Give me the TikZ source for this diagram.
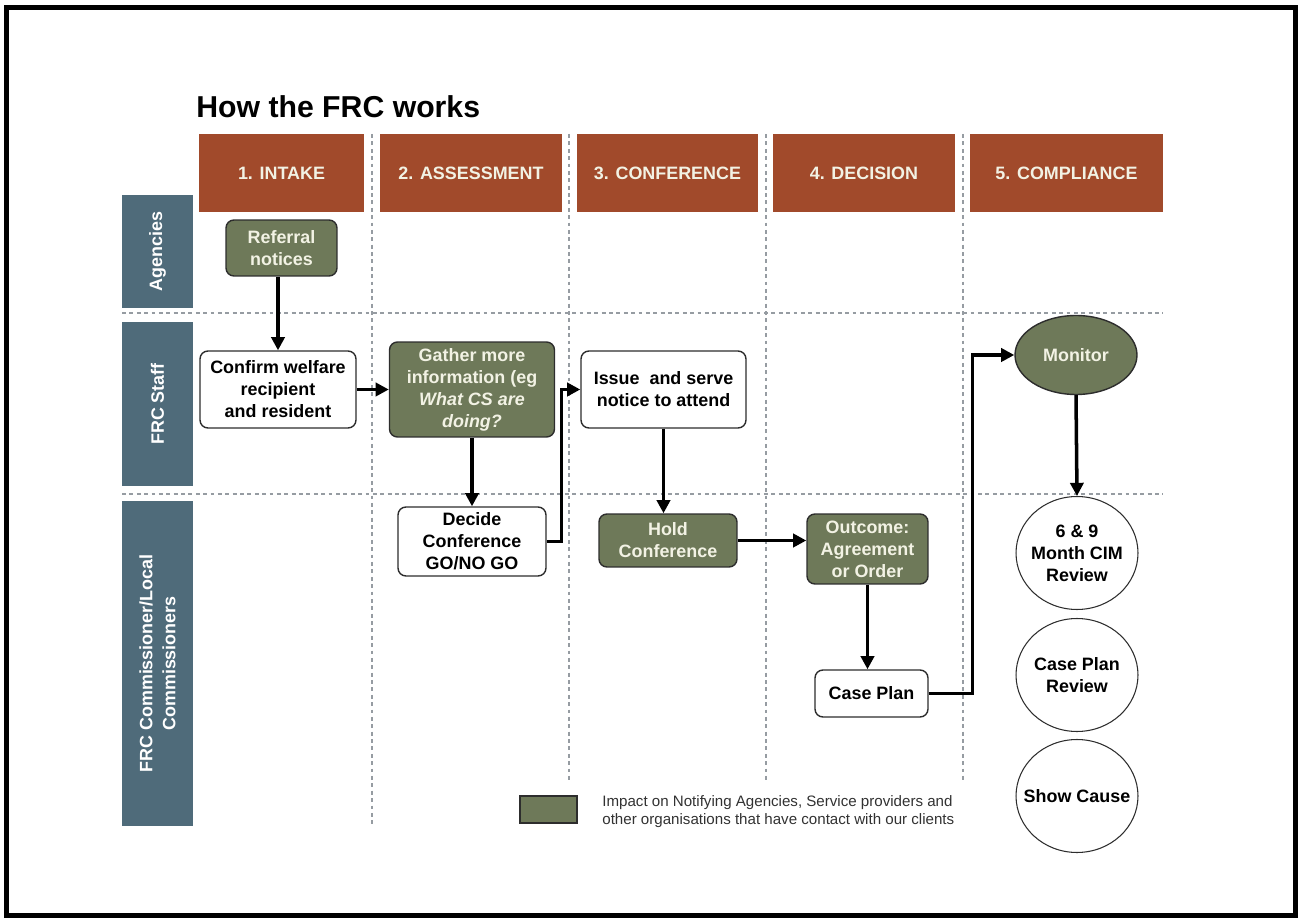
\documentclass[tikz,border=0pt]{standalone}
\usepackage{fontspec}
\setmainfont{Liberation Sans}
\usetikzlibrary{arrows.meta,shapes.geometric}
\definecolor{frcrust}{RGB}{161,74,43}
\definecolor{frcslate}{RGB}{79,107,122}
\definecolor{frcgreen}{RGB}{110,121,89}
\definecolor{frclight}{RGB}{242,242,228}
\definecolor{frcline}{RGB}{45,45,45}
\definecolor{frcdot}{RGB}{150,156,162}
\definecolor{frcgrey}{RGB}{50,50,50}
\newcommand{\boxfont}{\fontsize{10.2}{12.5}\selectfont\bfseries}
\newcommand{\lanefont}{\fontsize{10.2}{13}\selectfont\bfseries}
\newcommand{\titlefont}{\fontsize{17.2}{20}\selectfont\bfseries}
\newcommand{\legendfont}{\fontsize{8.6}{9.8}\selectfont}

\begin{document}
\begin{tikzpicture}[
  x=0.02cm, y=-0.02cm,
  phase/.style={fill=frcrust, text=frclight, minimum width=#1, minimum height=1.56cm, inner sep=0pt, font=\boxfont},
  lane/.style={fill=frcslate, text=white, rotate=90, minimum width=#1, minimum height=1.42cm, inner sep=0pt, align=center, font=\lanefont},
  plain/.style={draw=frcline, line width=0.8pt, rounded corners=4.5pt, fill=white, align=center, inner sep=0pt, font=\boxfont},
  impact/.style={plain, fill=frcgreen, text=frclight},
  bubble/.style={draw=frcline, line width=0.6pt, ellipse, fill=white, align=center, inner xsep=-0.06cm, inner ysep=0pt, minimum width=2.44cm, minimum height=2.26cm, font=\boxfont},
  arr/.style={line width=2pt, -{Triangle[length=7.5pt,width=7.5pt]}},
  divider/.style={draw=frcdot, line width=0.6pt, dash pattern=on 2.2pt off 2pt},
]
\useasboundingbox (0,0) rectangle (1298,918);
\draw[line width=0.1cm] (6.5,7.5) rectangle (1295.5,915.5);

\node[anchor=base west, font=\titlefont, inner sep=0pt] (title) at (196,118) {How the FRC works};

% phases
\node[phase=3.32cm] (intake)     at (281.5,173)  {1. INTAKE};
\node[phase=3.66cm] (assess)     at (471,173)    {2. ASSESSMENT};
\node[phase=3.62cm] (conference) at (667.5,173)  {3. CONFERENCE};
\node[phase=3.64cm] (decision)   at (864,173)    {4. DECISION};
\node[phase=3.86cm] (compliance) at (1066.5,173) {5. COMPLIANCE};

% lanes
\node[lane=2.26cm] (agencies) at (157.5,251.5) {Agencies};
\node[lane=3.28cm] (staff)    at (157.5,404)   {FRC Staff};
\node[lane=6.5cm]  (comm)     at (157.5,663.5) {FRC Commissioner/Local\\Commissioners};

% grid
\draw[divider] (122,313) -- (1163,313);
\draw[divider] (122,494) -- (1163,494);
\draw[divider] (372,134) -- (372,826);
\foreach \gx in {569,766,963}
  \draw[divider] (\gx,134) -- (\gx,780);

% steps
\node[impact, minimum width=2.22cm, minimum height=1.12cm] (referral) at (281.5,248) {Referral\\notices};
\node[plain, minimum width=3.12cm, minimum height=1.54cm] (confirm) at (278,389.5) {Confirm welfare\\recipient\\and resident};
\node[impact, minimum width=3.3cm, minimum height=1.9cm] (gather) at (472,389.5) {Gather more\\information (eg\\\textit{What CS are}\\\textit{doing?}};
\node[plain, minimum width=2.96cm, minimum height=1.38cm] (decide) at (472,541.5) {Decide\\Conference\\GO/NO GO};
\node[plain, minimum width=3.3cm, minimum height=1.54cm] (issue) at (663.5,389.5) {Issue\ \ and serve\\notice to attend};
\node[impact, minimum width=2.76cm, minimum height=1.06cm] (hold) at (668,540.5) {Hold\\Conference};
\node[impact, minimum width=2.42cm, minimum height=1.4cm] (outcome) at (867.5,549) {Outcome:\\Agreement\\or Order};
\node[plain, minimum width=2.26cm, minimum height=0.94cm] (caseplan) at (871.5,693.5) {Case Plan};
\node[bubble, fill=frcgreen, text=frclight, line width=0.8pt, minimum height=1.58cm] (monitor) at (1076,355) {Monitor};
\node[bubble] (cim)       at (1077,553) {6 \& 9\\Month CIM\\Review};
\node[bubble] (cpreview)  at (1077,675) {Case Plan\\Review};
\node[bubble, inner xsep=-0.21cm] (showcause) at (1077,796) {Show Cause};

% flow
\draw[arr] (referral.south -| confirm.north) -- (confirm.north);
\draw[arr] (confirm.east) -- (confirm.east -| gather.west);
\draw[arr] (gather.south) -- (decide.north);
\draw[arr] (decide.east) -- ++(15,0) |- (issue.west);
\draw[arr] (issue.south) -- (issue.south |- hold.north);
\draw[arr] (hold.east) -- (hold.east -| outcome.west);
\draw[arr] (outcome.south) -- (outcome.south |- caseplan.north);
\draw[arr] (caseplan.east) -- ++(44,0) |- (monitor.west);
\draw[arr] (monitor.south) -- (cim.north);

% legend
\node[impact, rounded corners=0pt, minimum width=1.14cm, minimum height=0.54cm] (legendkey) at (548.5,809.5) {};
\node[anchor=west, align=left, font=\legendfont, text=frcgrey, inner sep=0pt] (legendtext) at (602,811.5) {Impact on Notifying Agencies, Service providers and\\other organisations that have contact with our clients};
\end{tikzpicture}
\end{document}
